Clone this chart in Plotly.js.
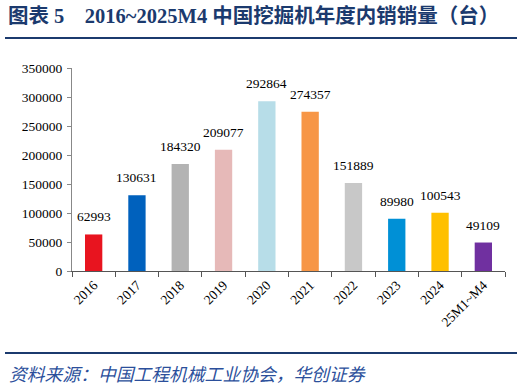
<!DOCTYPE html>
<html>
<head>
<meta charset="utf-8">
<script src="https://cdn.plot.ly/plotly-3.0.1.min.js"></script>
<style>
html,body{margin:0;padding:0;background:#fff;}
#chart{width:524px;height:387px;}
</style>
</head>
<body>
<div id="chart"></div>
<script>
const categories = ["2016","2017","2018","2019","2020","2021","2022","2023","2024","25M1~M4"];
const sales = [62993,130631,184320,209077,292864,274357,151889,89980,100543,49109];
const barColors = ["#e8141f","#0061bd","#b3b3b3","#e6b9b8","#b7dde8","#f79646","#c8c8c8","#0090d6","#ffc000","#7030a0"];
const yTicks = [0,50000,100000,150000,200000,250000,300000,350000];
const titleText = "<b>图表&nbsp;5&nbsp;&nbsp;&nbsp;&nbsp;2016~2025M4 中国挖掘机年度内销销量（台）</b>";
const sourceText = "资料来源：中国工程机械工业协会，华创证券";

const L = 72, R = 505, T = 68, B = 271;
const W = 524, H = 387;
const px2x = v => (v - L) / (R - L);
const px2y = v => (B - v) / (B - T);

const serif = "Liberation Serif, Times New Roman, serif";

const trace = {
  type: "bar",
  x: categories,
  y: sales,
  marker: {color: barColors},
  hoverinfo: "none",
  cliponaxis: false
};

const annotations = categories.map((c, i) => ({
  x: i, y: sales[i], xref: "x", yref: "y",
  text: String(sales[i]), showarrow: false,
  yanchor: "bottom", yshift: 8,
  font: {family: serif, size: 13.5, color: "#000"}
}));

annotations.push({
  xref: "paper", yref: "paper",
  x: px2x(7), y: px2y(373),
  xanchor: "left", yanchor: "middle",
  text: "<i>" + sourceText + "</i>", showarrow: false,
  font: {family: "Noto Sans CJK SC, sans-serif", size: 17.8, color: "#2b4f9b"}
});

const layout = {
  width: W, height: H,
  margin: {l: L, r: W - R, t: T, b: H - B, pad: 0},
  paper_bgcolor: "#fff", plot_bgcolor: "#fff",
  showlegend: false,
  bargap: 0.6,
  title: {
    text: titleText,
    xref: "container", yref: "container",
    x: 8 / W, xanchor: "left",
    y: 1 - 16 / H, yanchor: "middle",
    font: {family: "Liberation Serif, Noto Sans CJK SC, serif", size: 20.5, color: "#1b3a6e"}
  },
  xaxis: {
    type: "category",
    range: [-0.5, categories.length - 0.5],
    tickson: "boundaries",
    ticks: "outside", ticklen: 5, tickcolor: "#555", tickwidth: 1,
    showline: true, linecolor: "#555", linewidth: 1,
    showgrid: false, zeroline: false,
    tickangle: -45,
    tickfont: {family: serif, size: 13.5, color: "#000"},
    fixedrange: true
  },
  yaxis: {
    range: [0, 350000],
    tickmode: "array", tickvals: yTicks, ticktext: yTicks.map(String),
    ticks: "outside", ticklen: 4, tickcolor: "#888", tickwidth: 1,
    ticklabelstandoff: 2,
    showline: true, linecolor: "#888", linewidth: 1,
    showgrid: false, zeroline: false,
    tickfont: {family: serif, size: 13.5, color: "#000"},
    fixedrange: true
  },
  annotations: annotations,
  shapes: [
    {type: "line", xref: "paper", yref: "paper", x0: px2x(5), x1: px2x(517), y0: px2y(38), y1: px2y(38), line: {color: "#1b3a6e", width: 2}},
    {type: "line", xref: "paper", yref: "paper", x0: px2x(5), x1: px2x(517), y0: px2y(353), y1: px2y(353), line: {color: "#1b3a6e", width: 2}}
  ]
};

Plotly.newPlot("chart", [trace], layout, {displayModeBar: false, staticPlot: true});
</script>
</body>
</html>
